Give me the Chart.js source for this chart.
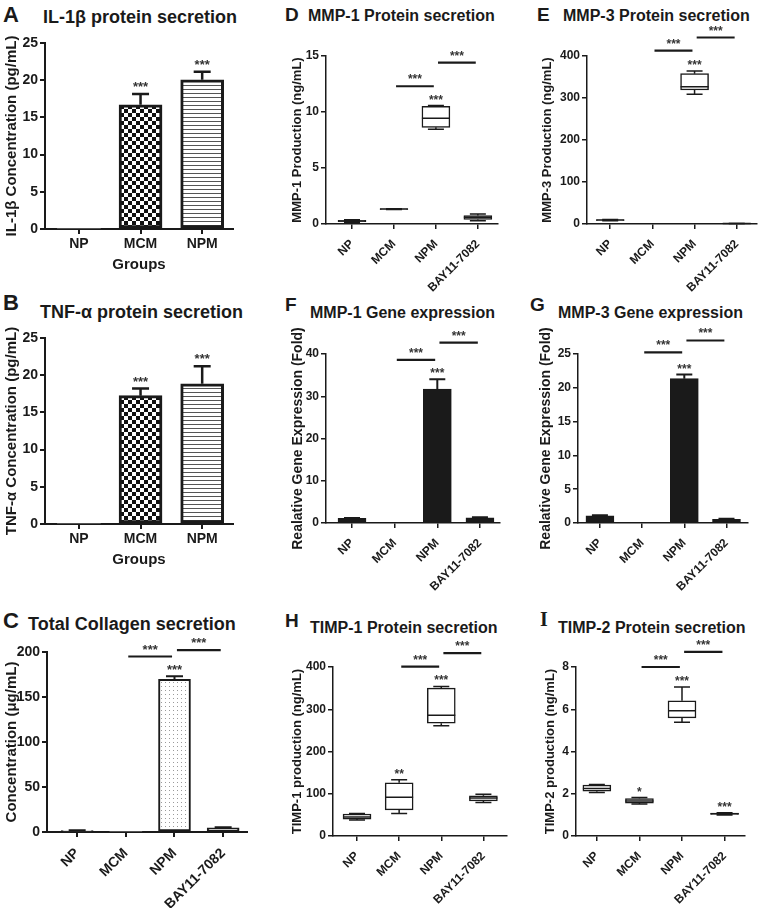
<!DOCTYPE html>
<html>
<head>
<meta charset="utf-8">
<script src="https://cdn.jsdelivr.net/npm/chart.js@4.4.1/dist/chart.umd.min.js"></script>
<style>
  html,body{margin:0;padding:0;background:#fff;}
  body{width:760px;height:908px;position:relative;overflow:hidden;font-family:"Liberation Sans",Arial,sans-serif;color:#1a1a1a;}
  .t{position:absolute;font-weight:bold;white-space:nowrap;line-height:1;color:#1a1a1a;}
  canvas{position:absolute;}
</style>
</head>
<body>
<div class="t" style="left:3px;top:4px;font-size:22px;">A</div>
<div class="t" style="left:43px;top:8px;font-size:18px;">IL-1β protein secretion</div>
<div class="t" style="left:3px;top:292px;font-size:22px;">B</div>
<div class="t" style="left:40px;top:303px;font-size:18px;">TNF-α protein secretion</div>
<div class="t" style="left:3px;top:610px;font-size:22px;">C</div>
<div class="t" style="left:28px;top:615px;font-size:18px;">Total Collagen secretion</div>
<div class="t" style="left:285px;top:5px;font-size:19px;">D</div>
<div class="t" style="left:308px;top:8px;font-size:16px;">MMP-1 Protein secretion</div>
<div class="t" style="left:537px;top:5px;font-size:19px;">E</div>
<div class="t" style="left:563px;top:8px;font-size:16px;">MMP-3 Protein secretion</div>
<div class="t" style="left:285px;top:295px;font-size:19px;">F</div>
<div class="t" style="left:310px;top:305px;font-size:16px;">MMP-1 Gene expression</div>
<div class="t" style="left:530px;top:295px;font-size:19px;">G</div>
<div class="t" style="left:558px;top:305px;font-size:16px;">MMP-3 Gene expression</div>
<div class="t" style="left:285px;top:611px;font-size:19px;">H</div>
<div class="t" style="left:310px;top:620px;font-size:16px;">TIMP-1 Protein secretion</div>
<div class="t" style="left:540px;top:609px;font-size:20px;font-family:'Liberation Serif',serif;">I</div>
<div class="t" style="left:558px;top:620px;font-size:16px;">TIMP-2 Protein secretion</div>

<script>
// ---------------- DATA ----------------
const groups3 = ['NP', 'MCM', 'NPM'];
const groups4 = ['NP', 'MCM', 'NPM', 'BAY11-7082'];

// A: IL-1beta (mean, SEM)
const il1bMean = [0, 16.7, 20.05];
const il1bSem = [0, 1.45, 1.1];
const il1bStars = ['', '***', '***'];

// B: TNF-alpha
const tnfaMean = [0, 17.25, 18.85];
const tnfaSem = [0, 0.95, 2.35];
const tnfaStars = ['', '***', '***'];

// C: Total collagen
const collagenMean = [1.5, 0, 169.6, 4.5];
const collagenSem = [0.4, 0, 3.4, 0.8];
const collagenStars = ['', '', '***', ''];
const collagenSig = [[1, 2, 195], [2, 3, 202]];

// D: MMP-1 protein (box: min, q1, median, q3, max)
const mmp1ProtMin = [0.15, 1.30, 8.45, 0.30];
const mmp1ProtQ1  = [0.20, 1.31, 8.63, 0.40];
const mmp1ProtMed = [0.27, 1.33, 9.45, 0.60];
const mmp1ProtQ3  = [0.33, 1.35, 10.50, 0.75];
const mmp1ProtMax = [0.38, 1.36, 10.57, 0.90];
const mmp1ProtStars = ['', '', '***', ''];
const mmp1ProtSig = [[1, 2, 12.3], [2, 3, 14.4]];

// E: MMP-3 protein
const mmp3ProtMin = [7.5, null, 309, 0.8];
const mmp3ProtQ1  = [8.5, null, 319, 1.0];
const mmp3ProtMed = [9.5, null, 327, 1.3];
const mmp3ProtQ3  = [10.0, null, 358, 1.6];
const mmp3ProtMax = [10.5, null, 364, 1.9];
const mmp3ProtStars = ['', '', '***', ''];
const mmp3ProtSig = [[1, 2, 413], [2, 3, 444]];

// F: MMP-1 gene expression
const mmp1GeneMean = [1.1, 0, 31.7, 1.25];
const mmp1GeneSem = [0.1, 0, 2.3, 0.1];
const mmp1GeneStars = ['', '', '***', ''];
const mmp1GeneSig = [[1, 2, 38.6], [2, 3, 42.7]];

// G: MMP-3 gene expression
const mmp3GeneMean = [1.05, 0, 21.35, 0.55];
const mmp3GeneSem = [0.08, 0, 0.6, 0.08];
const mmp3GeneStars = ['', '', '***', ''];
const mmp3GeneSig = [[1, 2, 25.25], [2, 3, 27.0]];

// H: TIMP-1 protein
const timp1Min = [38, 53, 261, 79];
const timp1Q1  = [40, 62, 267, 83];
const timp1Med = [45, 91.5, 286, 90];
const timp1Q3  = [52, 126, 350, 95];
const timp1Max = [53, 133, 354, 99];
const timp1Stars = ['', '**', '***', ''];
const timp1Sig = [[1, 2, 401], [2, 3, 433]];

// I: TIMP-2 protein
const timp2Min = [2.06, 1.52, 5.39, 1.00];
const timp2Q1  = [2.12, 1.56, 5.59, 1.02];
const timp2Med = [2.25, 1.66, 5.93, 1.05];
const timp2Q3  = [2.41, 1.77, 6.40, 1.08];
const timp2Max = [2.44, 1.82, 7.05, 1.10];
const timp2Stars = ['', '*', '***', '***'];
const timp2Sig = [[1, 2, 8.0], [2, 3, 8.72]];

// ---------------- STYLE ----------------
const DARK = '#1a1a1a';
Chart.defaults.font.family = '"Liberation Sans", Arial, sans-serif';
Chart.defaults.color = DARK;

function makePattern(kind) {
  const c = document.createElement('canvas');
  const g = c.getContext('2d');
  if (kind === 'checker') {
    c.width = 8; c.height = 8;
    g.fillStyle = '#fff'; g.fillRect(0, 0, 8, 8);
    g.fillStyle = '#111'; g.fillRect(0, 0, 4, 4); g.fillRect(4, 4, 4, 4);
  } else if (kind === 'stripes') {
    c.width = 4; c.height = 4;
    g.fillStyle = '#fff'; g.fillRect(0, 0, 4, 4);
    g.fillStyle = '#555'; g.fillRect(0, 0, 4, 1);
  } else {
    c.width = 4; c.height = 4;
    g.fillStyle = '#fff'; g.fillRect(0, 0, 4, 4);
    g.fillStyle = '#9a9a9a'; g.fillRect(1, 1, 1, 1);
  }
  return g.createPattern(c, 'repeat');
}
const checker = makePattern('checker');
const stripes = makePattern('stripes');
const dots = makePattern('dots');

function decoPlugin(p) {
  return {
    id: 'deco',
    afterDatasetsDraw(chart) {
      const ctx = chart.ctx, xs = chart.scales.x, ys = chart.scales.y;
      ctx.save();
      ctx.strokeStyle = DARK;
      ctx.fillStyle = DARK;
      const tops = [];
      if (p.mean) {
        ctx.lineWidth = p.errW;
        p.mean.forEach((m, i) => {
          const e = p.sem[i];
          tops[i] = m + e;
          if (!m || !e) return;
          const x = xs.getPixelForValue(i);
          const y0 = ys.getPixelForValue(m), y1 = ys.getPixelForValue(m + e);
          ctx.beginPath();
          ctx.moveTo(x, y0); ctx.lineTo(x, y1);
          ctx.moveTo(x - p.cap / 2, y1); ctx.lineTo(x + p.cap / 2, y1);
          ctx.stroke();
        });
      } else {
        ctx.lineWidth = p.whiskW;
        p.min.forEach((mn, i) => {
          tops[i] = p.max[i];
          if (mn == null) return;
          const x = xs.getPixelForValue(i);
          const yMin = ys.getPixelForValue(mn), yQ1 = ys.getPixelForValue(p.q1[i]);
          const yMed = ys.getPixelForValue(p.med[i]), yQ3 = ys.getPixelForValue(p.q3[i]);
          const yMax = ys.getPixelForValue(p.max[i]);
          ctx.beginPath();
          ctx.moveTo(x, yQ3); ctx.lineTo(x, yMax);
          ctx.moveTo(x - p.cap / 2, yMax); ctx.lineTo(x + p.cap / 2, yMax);
          ctx.moveTo(x, yQ1); ctx.lineTo(x, yMin);
          ctx.moveTo(x - p.cap / 2, yMin); ctx.lineTo(x + p.cap / 2, yMin);
          ctx.moveTo(x - p.barW / 2, yMed); ctx.lineTo(x + p.barW / 2, yMed);
          ctx.stroke();
        });
      }
      ctx.font = 'bold ' + p.starSize + 'px "Liberation Sans", Arial, sans-serif';
      ctx.textAlign = 'center';
      ctx.textBaseline = 'alphabetic';
      ctx.fillStyle = '#333';
      (p.stars || []).forEach((s, i) => {
        if (!s) return;
        const x = xs.getPixelForValue(i);
        const y = ys.getPixelForValue(tops[i]) - p.starGap;
        ctx.fillText(s, x, y);
      });
      (p.sig || []).forEach(([a, b, v]) => {
        const y = ys.getPixelForValue(v);
        const x1 = xs.getPixelForValue(a + 0.05), x2 = xs.getPixelForValue(b - 0.05);
        ctx.lineWidth = 2.2;
        ctx.strokeStyle = DARK;
        ctx.beginPath(); ctx.moveTo(x1, y); ctx.lineTo(x2, y); ctx.stroke();
        ctx.fillText('***', (x1 + x2) / 2, y - 3);
      });
      ctx.restore();
    }
  };
}

function buildPanel(p) {
  const cv = document.createElement('canvas');
  cv.width = p.box.w; cv.height = p.box.h;
  cv.style.left = p.box.l + 'px'; cv.style.top = p.box.t + 'px';
  cv.style.width = p.box.w + 'px'; cv.style.height = p.box.h + 'px';
  document.body.appendChild(cv);

  const datasets = [];
  if (p.mean) {
    datasets.push({
      data: p.mean.map((v, i) => ({ x: i, y: v })),
      backgroundColor: p.fills,
      borderColor: DARK,
      borderWidth: p.mean.map(v => (v ? p.barBorder : 0)),
      borderSkipped: false,
      barThickness: p.barW
    });
  } else {
    const d = [];
    p.q1.forEach((v, i) => { if (v != null) d.push({ x: i, y: [p.q1[i], p.q3[i]] }); });
    datasets.push({
      data: d, backgroundColor: '#fff', borderColor: DARK,
      borderWidth: p.boxBorder, borderSkipped: false, barThickness: p.barW
    });
  }

  const A = p.area, B = p.box;
  const labels = p.labels;
  new Chart(cv, {
    type: 'bar',
    data: { datasets },
    options: {
      responsive: false, animation: false, devicePixelRatio: 1,
      layout: { padding: { left: 0, top: A.t - B.t, right: (B.l + B.w) - A.r, bottom: 0 } },
      plugins: { legend: { display: false }, tooltip: { enabled: false } },
      scales: {
        x: {
          type: 'linear', min: p.xMin, max: p.xMax, offset: false,
          grid: { offset: false, drawOnChartArea: false, drawTicks: true, tickLength: 5, color: DARK, lineWidth: p.axisW },
          border: { display: true, color: DARK, width: p.axisW },
          ticks: {
            stepSize: 1, includeBounds: false, autoSkip: false,
            minRotation: p.rot, maxRotation: p.rot, padding: p.xPad,
            font: { size: p.xTick, weight: 'bold' }, color: DARK,
            callback: v => (labels[v] !== undefined ? labels[v] : '')
          },
          title: p.xTitle ? { display: true, text: p.xTitle, font: { size: 15, weight: 'bold' }, color: DARK, padding: { top: 0, bottom: p.xTitlePad } } : { display: false },
          afterFit: s => { s.height = (B.t + B.h) - A.b; }
        },
        y: {
          min: 0, max: p.yMax,
          grid: { drawOnChartArea: false, drawTicks: true, tickLength: 5, color: DARK, lineWidth: p.axisW },
          border: { display: true, color: DARK, width: p.axisW },
          ticks: { stepSize: p.yStep, padding: 2, font: { size: p.yTick, weight: 'bold' }, color: DARK },
          title: { display: true, text: p.yTitle, font: { size: p.yTitleSize, weight: 'bold' }, color: DARK, padding: { top: p.yTitlePad, bottom: 0 } },
          afterFit: s => { s.width = A.l - B.l; }
        }
      }
    },
    plugins: [decoPlugin(p)]
  });
}

// Panel A
buildPanel({
  box: { l: 0, t: 25, w: 245, h: 260 }, area: { l: 45, t: 43, r: 233, b: 229 },
  labels: groups3, xMin: -0.55, xMax: 2.5, rot: 0, xPad: 2, xTick: 14,
  xTitle: 'Groups', xTitlePad: 11,
  yMax: 25, yStep: 5, yTick: 14, yTitle: 'IL-1β Concentration (pg/mL)', yTitleSize: 15, yTitlePad: 3,
  mean: il1bMean, sem: il1bSem, stars: il1bStars,
  fills: ['#fff', checker, stripes], barBorder: 3, barW: 43, errW: 2.5, cap: 17,
  axisW: 2, starSize: 13, starGap: 3
});
// Panel B
buildPanel({
  box: { l: 0, t: 320, w: 245, h: 260 }, area: { l: 45, t: 338, r: 233, b: 524 },
  labels: groups3, xMin: -0.55, xMax: 2.5, rot: 0, xPad: 2, xTick: 14,
  xTitle: 'Groups', xTitlePad: 11,
  yMax: 25, yStep: 5, yTick: 14, yTitle: 'TNF-α Concentration (pg/mL)', yTitleSize: 15, yTitlePad: 3,
  mean: tnfaMean, sem: tnfaSem, stars: tnfaStars,
  fills: ['#fff', checker, stripes], barBorder: 3, barW: 43, errW: 2.5, cap: 17,
  axisW: 2, starSize: 13, starGap: 3
});
// Panel C
buildPanel({
  box: { l: 0, t: 625, w: 255, h: 283 }, area: { l: 47, t: 652, r: 247, b: 832 },
  labels: groups4, xMin: -0.62, xMax: 3.49, rot: 45, xPad: 8, xTick: 14,
  yMax: 200, yStep: 50, yTick: 14, yTitle: 'Concentration (μg/mL)', yTitleSize: 15, yTitlePad: 3,
  mean: collagenMean, sem: collagenSem, stars: collagenStars, sig: collagenSig,
  fills: ['#fff', '#fff', dots, '#fff'], barBorder: 2, barW: 32, errW: 2, cap: 17,
  axisW: 2, starSize: 13, starGap: 2
});
// Panel D
buildPanel({
  box: { l: 285, t: 30, w: 220, h: 270 }, area: { l: 326, t: 56, r: 498, b: 224 },
  labels: groups4, xMin: -0.62, xMax: 3.48, rot: 45, xPad: 8, xTick: 12,
  yMax: 15, yStep: 5, yTick: 12, yTitle: 'MMP-1 Production (ng/mL)', yTitleSize: 13, yTitlePad: 5,
  min: mmp1ProtMin, q1: mmp1ProtQ1, med: mmp1ProtMed, q3: mmp1ProtQ3, max: mmp1ProtMax,
  stars: mmp1ProtStars, sig: mmp1ProtSig,
  boxBorder: 1.5, whiskW: 1.5, barW: 28, cap: 16, axisW: 1.5, starSize: 12, starGap: 2
});
// Panel E
buildPanel({
  box: { l: 535, t: 25, w: 225, h: 275 }, area: { l: 587, t: 56, r: 757, b: 224 },
  labels: groups4, xMin: -0.55, xMax: 3.48, rot: 45, xPad: 8, xTick: 12,
  yMax: 400, yStep: 100, yTick: 12, yTitle: 'MMP-3 Production (ng/mL)', yTitleSize: 13, yTitlePad: 5,
  min: mmp3ProtMin, q1: mmp3ProtQ1, med: mmp3ProtMed, q3: mmp3ProtQ3, max: mmp3ProtMax,
  stars: mmp3ProtStars, sig: mmp3ProtSig,
  boxBorder: 1.5, whiskW: 1.5, barW: 28, cap: 16, axisW: 1.5, starSize: 12, starGap: 2
});
// Panel F
buildPanel({
  box: { l: 285, t: 322, w: 220, h: 306 }, area: { l: 326, t: 354, r: 500, b: 523 },
  labels: groups4, xMin: -0.61, xMax: 3.47, rot: 45, xPad: 8, xTick: 12,
  yMax: 40, yStep: 10, yTick: 12, yTitle: 'Realative Gene Expression (Fold)', yTitleSize: 14, yTitlePad: 5,
  mean: mmp1GeneMean, sem: mmp1GeneSem, stars: mmp1GeneStars, sig: mmp1GeneSig,
  fills: [DARK, DARK, DARK, DARK], barBorder: 1, barW: 28, errW: 2, cap: 16,
  axisW: 1.5, starSize: 12, starGap: 2
});
// Panel G
buildPanel({
  box: { l: 534, t: 322, w: 226, h: 306 }, area: { l: 578, t: 354, r: 748, b: 523 },
  labels: groups4, xMin: -0.52, xMax: 3.51, rot: 45, xPad: 8, xTick: 12,
  yMax: 25, yStep: 5, yTick: 12, yTitle: 'Realative Gene Expression (Fold)', yTitleSize: 14, yTitlePad: 4,
  mean: mmp3GeneMean, sem: mmp3GeneSem, stars: mmp3GeneStars, sig: mmp3GeneSig,
  fills: [DARK, DARK, DARK, DARK], barBorder: 1, barW: 28, errW: 2, cap: 16,
  axisW: 1.5, starSize: 12, starGap: 2
});
// Panel H
buildPanel({
  box: { l: 285, t: 636, w: 225, h: 272 }, area: { l: 333, t: 667, r: 507, b: 836 },
  labels: groups4, xMin: -0.57, xMax: 3.56, rot: 45, xPad: 8, xTick: 12,
  yMax: 400, yStep: 100, yTick: 12, yTitle: 'TIMP-1 production (ng/mL)', yTitleSize: 13, yTitlePad: 5,
  min: timp1Min, q1: timp1Q1, med: timp1Med, q3: timp1Q3, max: timp1Max,
  stars: timp1Stars, sig: timp1Sig,
  boxBorder: 1.5, whiskW: 1.5, barW: 28, cap: 16, axisW: 1.5, starSize: 12, starGap: 2
});
// Panel I
buildPanel({
  box: { l: 537, t: 636, w: 223, h: 272 }, area: { l: 576, t: 667, r: 745, b: 836 },
  labels: groups4, xMin: -0.49, xMax: 3.48, rot: 45, xPad: 8, xTick: 12,
  yMax: 8, yStep: 2, yTick: 12, yTitle: 'TIMP-2 production (ng/mL)', yTitleSize: 13, yTitlePad: 6,
  min: timp2Min, q1: timp2Q1, med: timp2Med, q3: timp2Q3, max: timp2Max,
  stars: timp2Stars, sig: timp2Sig,
  boxBorder: 1.5, whiskW: 1.5, barW: 28, cap: 16, axisW: 1.5, starSize: 12, starGap: 2
});
</script>
</body>
</html>
